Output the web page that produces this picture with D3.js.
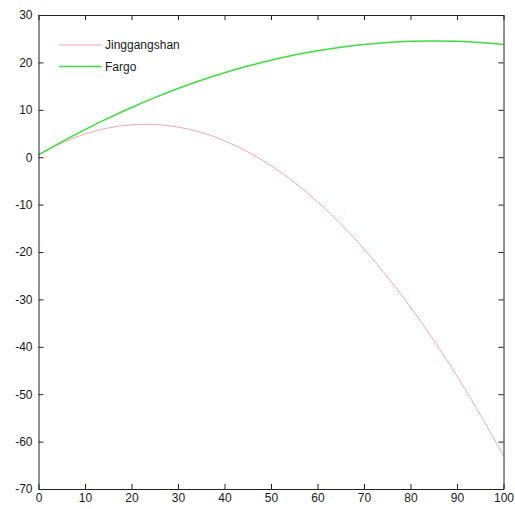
<!DOCTYPE html>
<html lang="en">
<head>
    <meta charset="UTF-8">
    <title>Jinggangshan vs Fargo</title>
    <script src="https://d3js.org/d3.v7.min.js"></script>
    <style>
        body { margin: 0; background: #fff; }
        text { font-family: "Liberation Sans", Arial, sans-serif; font-size: 12px; fill: #1a1a1a; }
    </style>
</head>
<body>
<svg width="515" height="509"></svg>
<script>
    // values, every 5 units of x
    const xs = [0, 5, 10, 15, 20, 25, 30, 35, 40, 45, 50, 55, 60, 65, 70, 75, 80, 85, 90, 95, 100];
    const jinggangshan = [0.5, 3.0, 4.9, 6.17, 6.84, 6.9, 6.36, 5.22, 3.48, 1.14, -1.78, -5.29, -9.39, -14.08, -19.35, -25.2, -31.62, -38.61, -46.17, -54.31, -63.0];
    const fargo = [0.5, 3.25, 5.83, 8.24, 10.49, 12.57, 14.48, 16.23, 17.81, 19.22, 20.47, 21.55, 22.46, 23.21, 23.79, 24.2, 24.45, 24.53, 24.44, 24.19, 23.8];
    const xTicks = [0, 10, 20, 30, 40, 50, 60, 70, 80, 90, 100];
    const yTicks = [-70, -60, -50, -40, -30, -20, -10, 0, 10, 20, 30];

    const series = [
        {name: "Jinggangshan", values: jinggangshan, color: "#eea6bf", width: 1},
        {name: "Fargo", values: fargo, color: "#3fdc3f", width: 1.5}
    ];

    const svg = d3.select("svg");
    const L = 38.5, R = 503.5, T = 15, B = 489;

    const x = d3.scaleLinear().domain([0, 100]).range([L, R]);
    const y = d3.scaleLinear().domain([-70, 30]).range([B, T]);

    // lines
    const line = d3.line()
        .x((d, i) => x(xs[i]))
        .y(d => y(d))
        .curve(d3.curveCatmullRom);

    svg.append("g").selectAll("path")
        .data(series)
        .enter().append("path")
        .attr("d", d => line(d.values))
        .attr("fill", "none")
        .attr("stroke", d => d.color)
        .attr("stroke-width", d => d.width);

    // axes, ticks inward on all four sides
    const tl = 5;
    const fmt = d => String(d);   // plain hyphen, as in the picture
    svg.append("g").attr("transform", `translate(0,${B})`)
        .call(d3.axisBottom(x).tickValues(xTicks).tickFormat(fmt).tickSizeInner(-tl).tickSizeOuter(0).tickPadding(3))
        .call(g => g.selectAll("text").attr("dy", "0.8em"));
    svg.append("g").attr("transform", `translate(${L},0)`)
        .call(d3.axisLeft(y).tickValues(yTicks).tickFormat(fmt).tickSizeInner(-tl).tickSizeOuter(0).tickPadding(6));
    svg.append("g").attr("transform", `translate(0,${T})`)
        .call(d3.axisTop(x).tickValues(xTicks).tickSizeInner(-tl).tickSizeOuter(0).tickFormat(""));
    svg.append("g").attr("transform", `translate(${R},0)`)
        .call(d3.axisRight(y).tickValues(yTicks).tickSizeInner(-tl).tickSizeOuter(0).tickFormat(""));

    svg.selectAll(".domain").attr("stroke", "#222");
    svg.selectAll(".tick line").attr("stroke", "#222");
    svg.selectAll(".tick text").style("font-family", "'Liberation Sans', Arial, sans-serif").style("font-size", "12px").attr("fill", "#1a1a1a");

    // legend
    const lg = svg.append("g").selectAll("g")
        .data(series)
        .enter().append("g")
        .attr("transform", (d, i) => `translate(59,${45 + i * 21.5})`);
    lg.append("line").attr("x1", 0).attr("x2", 43)
        .attr("stroke", d => d.color).attr("stroke-width", d => d.width);
    lg.append("text").attr("x", 46).attr("dy", "0.35em").text(d => d.name);
</script>
</body>
</html>
